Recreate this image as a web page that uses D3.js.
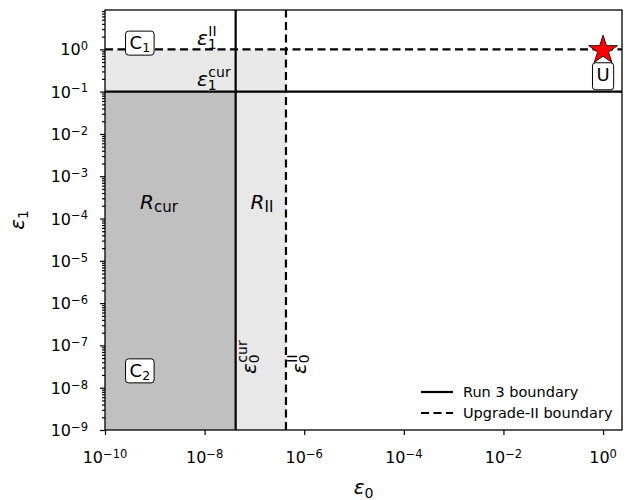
<!DOCTYPE html>
<html>
<head>
<meta charset="utf-8">
<script src="https://cdn.jsdelivr.net/npm/d3@7"></script>
<style>
  body { margin: 0; background: #fff; }
  text { font-family: "DejaVu Sans", sans-serif; fill: #000; }
</style>
</head>
<body>
<div id="chart"></div>
<script>
// boundaries: [eps0, eps1]
var runCur = [4.2e-8, 0.1];
var runII = [4.3e-7, 1];
var xDomain = [1e-10, 2.4];
var yDomain = [1e-9, 8.5];
var xTickExp = [-10, -8, -6, -4, -2, 0];
var yTickExp = [-9, -8, -7, -6, -5, -4, -3, -2, -1, 0];
// point U (unitarity)
var starPoint = [1, 1];
var boxLabels = [
  {main: "C", sub: "1", x: 5e-10, y: 1.4},
  {main: "C", sub: "2", x: 5e-10, y: 2.5e-8},
  {main: "U", sub: "", x: 1, y: 0.25}
];
var legendItems = [
  {label: "Run 3 boundary", dash: null},
  {label: "Upgrade-II boundary", dash: "8,4.5"}
];

var width = 630, height = 500;
var margin = {left: 105, right: 8, top: 10, bottom: 70};

var svg = d3.select("#chart")
  .append("svg")
  .attr("width", width)
  .attr("height", height);

var x = d3.scaleLog()
  .domain(xDomain)
  .range([margin.left, width - margin.right]);

var y = d3.scaleLog()
  .domain(yDomain)
  .range([height - margin.bottom, margin.top]);

//shaded regions
svg.append("rect")
  .attr("x", x(xDomain[0]))
  .attr("y", y(runII[1]))
  .attr("width", x(runII[0]) - x(xDomain[0]))
  .attr("height", y(yDomain[0]) - y(runII[1]))
  .attr("fill", "#e8e8e8");

svg.append("rect")
  .attr("x", x(xDomain[0]))
  .attr("y", y(runCur[1]))
  .attr("width", x(runCur[0]) - x(xDomain[0]))
  .attr("height", y(yDomain[0]) - y(runCur[1]))
  .attr("fill", "#c0c0c0");

//boundary lines
function boundary(b, dash) {
  svg.append("line")
    .attr("x1", x(b[0])).attr("x2", x(b[0]))
    .attr("y1", y(yDomain[0])).attr("y2", y(yDomain[1]))
    .attr("stroke", "#000").attr("stroke-width", 2.2)
    .attr("stroke-dasharray", dash);
  svg.append("line")
    .attr("x1", x(xDomain[0])).attr("x2", x(xDomain[1]))
    .attr("y1", y(b[1])).attr("y2", y(b[1]))
    .attr("stroke", "#000").attr("stroke-width", 2.2)
    .attr("stroke-dasharray", dash);
}
boundary(runCur, null);
boundary(runII, "8,4.5");

//axes
svg.append("g")
  .attr("transform", "translate(0," + y(yDomain[0]) + ")")
  .call(d3.axisBottom(x).tickValues(xTickExp.map(function(e) { return Math.pow(10, e); }))
    .tickFormat("").tickSizeInner(5).tickSizeOuter(0));

var yMinor = [];
yTickExp.forEach(function(e) {
  for (var k = 2; k <= 9; k++) {
    var v = k * Math.pow(10, e);
    if (v < yDomain[1]) yMinor.push(v);
  }
});
svg.append("g")
  .attr("transform", "translate(" + x(xDomain[0]) + ",0)")
  .call(d3.axisLeft(y).tickValues(yMinor).tickFormat("").tickSizeInner(3).tickSizeOuter(0));
svg.append("g")
  .attr("transform", "translate(" + x(xDomain[0]) + ",0)")
  .call(d3.axisLeft(y).tickValues(yTickExp.map(function(e) { return Math.pow(10, e); }))
    .tickFormat("").tickSizeInner(5).tickSizeOuter(0));

svg.selectAll(".domain").remove();
svg.selectAll(".tick line").attr("stroke", "#000").attr("stroke-width", 1.2);

//tick labels with superscripts
function powLabel(g, e, anchor) {
  var t = g.append("text").attr("text-anchor", anchor).style("font-size", "16px");
  t.append("tspan").text("10");
  t.append("tspan").attr("dy", "-0.45em").style("font-size", "11.5px")
    .text(e < 0 ? "\u2212" + (-e) : String(e));
  return t;
}
xTickExp.forEach(function(e) {
  var g = svg.append("g").attr("transform", "translate(" + x(Math.pow(10, e)) + "," + (y(yDomain[0]) + 33) + ")");
  powLabel(g, e, "middle");
});
yTickExp.forEach(function(e) {
  var g = svg.append("g").attr("transform", "translate(" + (x(xDomain[0]) - 17) + "," + (y(Math.pow(10, e)) + 6) + ")");
  powLabel(g, e, "end");
});

//frame
svg.append("rect")
  .attr("x", x(xDomain[0])).attr("y", y(yDomain[1]))
  .attr("width", x(xDomain[1]) - x(xDomain[0]))
  .attr("height", y(yDomain[0]) - y(yDomain[1]))
  .attr("fill", "none").attr("stroke", "#000").attr("stroke-width", 1.3);

//axis labels
var xl = svg.append("text")
  .attr("x", (x(xDomain[0]) + x(xDomain[1])) / 2)
  .attr("y", 494)
  .attr("text-anchor", "middle")
  .style("font-size", "20px");
xl.append("tspan").style("font-style", "italic").text("\u03b5");
xl.append("tspan").attr("dy", "0.25em").style("font-size", "14px").text("0");

var yl = svg.append("text")
  .attr("transform", "translate(24," + ((y(yDomain[0]) + y(yDomain[1])) / 2) + ") rotate(-90)")
  .attr("text-anchor", "middle")
  .style("font-size", "20px");
yl.append("tspan").style("font-style", "italic").text("\u03b5");
yl.append("tspan").attr("dy", "0.25em").style("font-size", "14px").text("1");

//epsilon annotations: main + sub in one text, sup in its own text
function epsLabel(px, py, sub, sup, rot) {
  var g = svg.append("g")
    .attr("transform", "translate(" + px + "," + py + ")" + (rot ? " rotate(-90)" : ""));
  var t = g.append("text").style("font-size", "20px");
  var e = t.append("tspan").style("font-style", "italic").text("\u03b5");
  t.append("tspan").attr("dy", "0.25em").style("font-size", "14px").text(sub);
  var ew = e.node().getComputedTextLength();
  g.append("text")
    .attr("x", ew + 0.5).attr("y", -9)
    .style("font-size", "14px")
    .text(sup);
}
epsLabel(197, 45, "1", "II", false);
epsLabel(197, 86, "1", "cur", false);
epsLabel(x(runCur[0]) + 20, 374, "0", "cur", true);
epsLabel(x(runII[0]) + 20, 374, "0", "II", true);

//region labels
function regionLabel(px, sub) {
  var t = svg.append("text")
    .attr("x", px).attr("y", 209)
    .attr("text-anchor", "middle")
    .style("font-size", "20px");
  t.append("tspan").style("font-style", "italic").text("R");
  t.append("tspan").attr("dy", "0.2em").style("font-size", "15px").text(sub);
}
regionLabel(159, "cur");
regionLabel(262, "II");

//boxed labels
boxLabels.forEach(function(b) {
  var g = svg.append("g").attr("transform", "translate(" + x(b.x) + "," + y(b.y) + ")");
  var t = g.append("text").attr("text-anchor", "middle").attr("y", 6).style("font-size", "18px");
  t.append("tspan").text(b.main);
  if (b.sub) t.append("tspan").attr("dy", "0.25em").style("font-size", "12.5px").text(b.sub);
  var bb = t.node().getBBox();
  g.insert("rect", "text")
    .attr("x", bb.x - 4).attr("y", -12)
    .attr("width", bb.width + 8).attr("height", b.sub ? 24 : 27)
    .attr("rx", 3)
    .attr("fill", "#fff").attr("stroke", "#000").attr("stroke-width", 1);
});

//star
svg.append("path")
  .attr("d", d3.symbol().type(d3.symbolStar).size(260)())
  .attr("transform", "translate(" + x(starPoint[0]) + "," + (y(starPoint[1]) + 1) + ")")
  .attr("fill", "#ff0000").attr("stroke", "#000").attr("stroke-width", 0.8);

//legend
var lg = svg.append("g").attr("transform", "translate(421,392)");
legendItems.forEach(function(d, i) {
  lg.append("line")
    .attr("x1", 0).attr("x2", 32)
    .attr("y1", i * 21).attr("y2", i * 21)
    .attr("stroke", "#000").attr("stroke-width", 2.2)
    .attr("stroke-dasharray", d.dash);
  lg.append("text")
    .attr("x", 42).attr("y", i * 21 + 5)
    .style("font-size", "14.5px")
    .text(d.label);
});
</script>
</body>
</html>
